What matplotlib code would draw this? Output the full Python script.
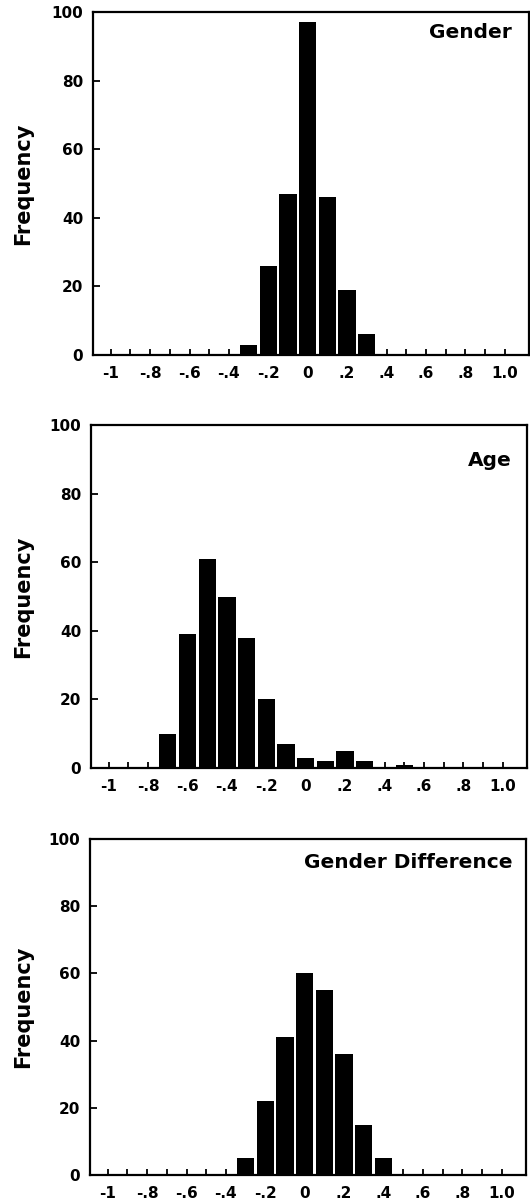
import matplotlib
matplotlib.use("Agg")
import matplotlib.pyplot as plt
import numpy as np

plt.rcParams['font.family'] = ['DejaVu Sans']

# Data (bin centres and frequencies)
gender_bins = [-0.3, -0.2, -0.1, 0.0, 0.1, 0.2, 0.3]
gender_freq = [3, 26, 47, 97, 46, 19, 6]

age_bins = [-0.7, -0.6, -0.5, -0.4, -0.3, -0.2, -0.1, 0.0, 0.1, 0.2, 0.3, 0.5]
age_freq = [10, 39, 61, 50, 38, 20, 7, 3, 2, 5, 2, 1]

diff_bins = [-0.3, -0.2, -0.1, 0.0, 0.1, 0.2, 0.3, 0.4]
diff_freq = [5, 22, 41, 60, 55, 36, 15, 5]

titles = ["Gender", "Age", "Gender Difference"]
xtick_vals = [-1, -0.8, -0.6, -0.4, -0.2, 0, 0.2, 0.4, 0.6, 0.8, 1.0]
xtick_labels = ["-1", "-.8", "-.6", "-.4", "-.2", "0", ".2", ".4", ".6", ".8", "1.0"]
ytick_vals = [0, 20, 40, 60, 80, 100]

W, H = 530, 1200
fig = plt.figure(figsize=(W / 100, H / 100), dpi=100)

# panel geometry in pixels: left, top, bottom
panels = [(93, 12, 355), (91, 425, 768), (90, 839, 1175)]
xl = (-1.09, 1.125)
scale = 197.0  # px per 1.0 unit
data = [(gender_bins, gender_freq), (age_bins, age_freq), (diff_bins, diff_freq)]
title_y = [32, 460, 862]

for (left, top, bottom), (bins, freq), title, ty in zip(panels, data, titles, title_y):
    width_px = (xl[1] - xl[0]) * scale
    ax = fig.add_axes([left / W, 1 - bottom / H, width_px / W, (bottom - top) / H])
    ax.bar(bins, freq, width=0.088, color='black', edgecolor='none')
    ax.set_xlim(*xl)
    ax.set_ylim(0, 100)
    for s in ax.spines.values():
        s.set_linewidth(1.6)
    ax.set_xticks(np.round(np.arange(-1.0, 1.05, 0.1), 2), minor=True)
    ax.set_xticks(xtick_vals)
    ax.set_xticklabels(xtick_labels, fontsize=11, fontweight='bold')
    ax.tick_params(axis='x', which='both', direction='in', length=4, width=1.3, pad=8)
    ax.tick_params(axis='x', which='minor', labelbottom=False)
    ax.set_yticks(ytick_vals)
    ax.set_yticklabels([str(v) for v in ytick_vals], fontsize=11, fontweight='bold')
    ax.tick_params(axis='y', direction='in', length=5, width=1.3, pad=7)
    fig.text(23 / W, 1 - (top + bottom) / 2 / H, "Frequency", rotation=90,
             ha='center', va='center', fontsize=15, fontweight='bold')
    fig.text(512 / W, 1 - ty / H, title, ha='right', va='center',
             fontsize=14.5, fontweight='bold')

fig.savefig("out.png", dpi=100)
